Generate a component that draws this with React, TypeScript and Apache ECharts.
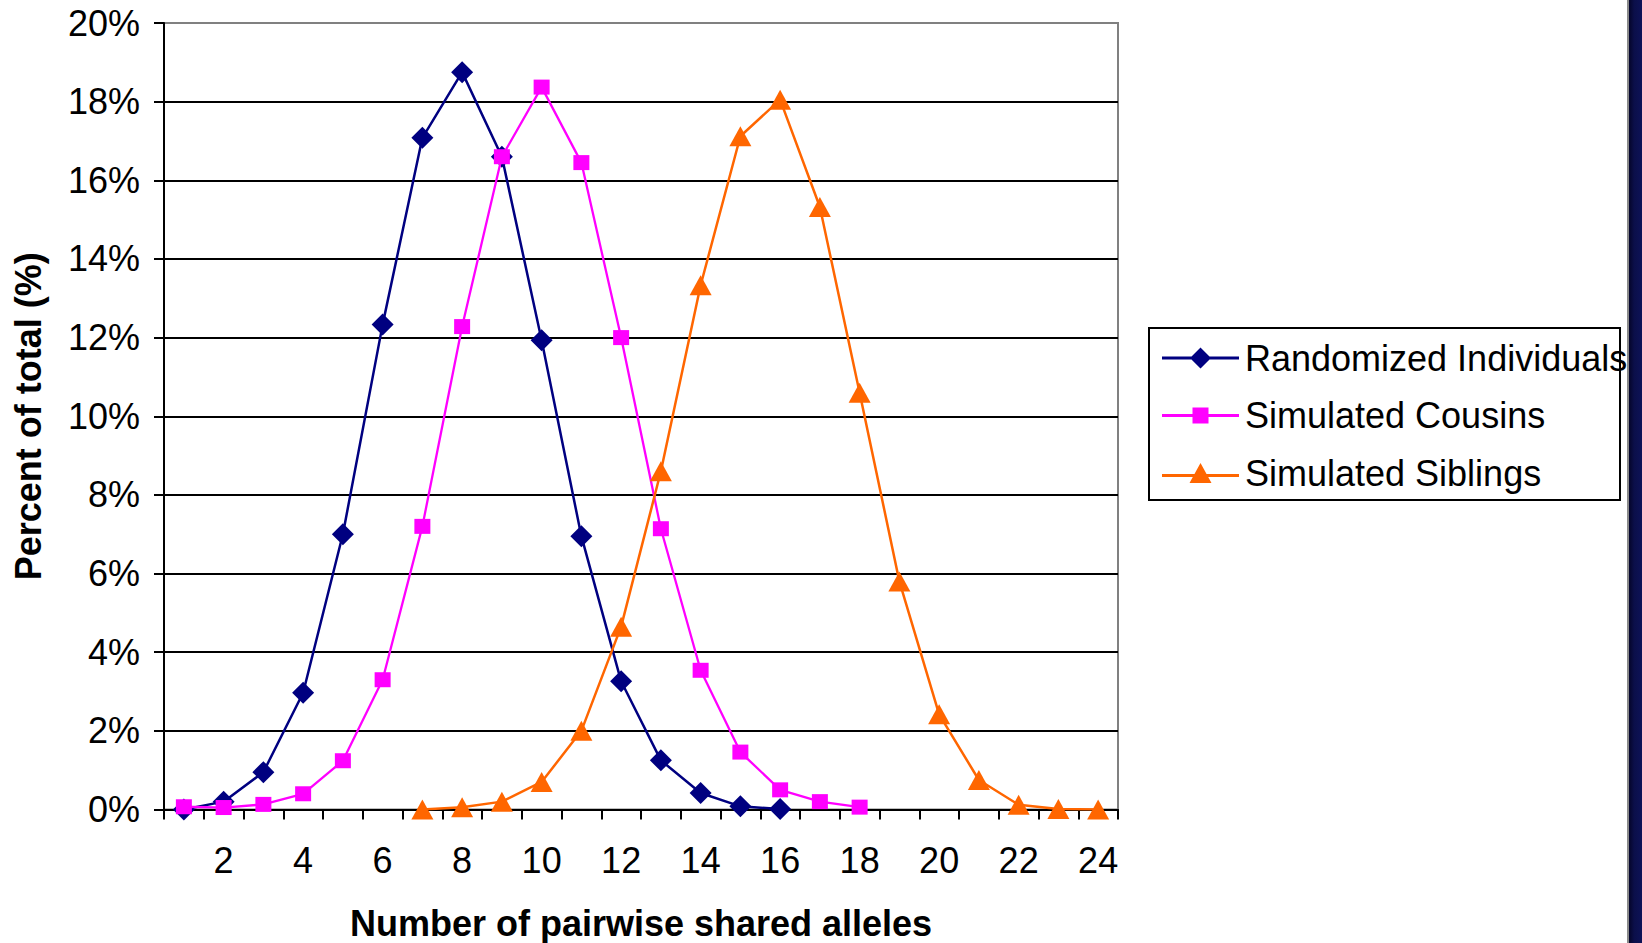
import React, { useEffect, useRef } from "react";
import * as echarts from "echarts";

const categories = ["1", "2", "3", "4", "5", "6", "7", "8", "9", "10", "11", "12", "13", "14", "15", "16", "17", "18", "19", "20", "21", "22", "23", "24"];
const yTicks = ["0%", "2%", "4%", "6%", "8%", "10%", "12%", "14%", "16%", "18%", "20%"];

const randomized = [0.0, 0.2, 0.95, 2.97, 7.0, 12.33, 17.08, 18.75, 16.6, 11.93, 6.95, 3.26, 1.25, 0.42, 0.08, 0.01, null, null, null, null, null, null, null, null];
const cousins = [0.07, 0.05, 0.13, 0.4, 1.24, 3.3, 7.2, 12.28, 16.6, 18.37, 16.45, 12.0, 7.14, 3.54, 1.46, 0.5, 0.2, 0.06, null, null, null, null, null, null];
const siblings = [null, null, null, null, null, null, 0.0, 0.06, 0.2, 0.7, 2.0, 4.65, 8.6, 13.33, 17.12, 18.05, 15.32, 10.6, 5.8, 2.42, 0.75, 0.12, 0.01, 0.0];

const seriesNames = ["Randomized Individuals", "Simulated Cousins", "Simulated Siblings"];

const FONT = "'Liberation Sans', Arial, sans-serif";

// legend icons: line + marker, drawn as one filled path
const iconDiamond = "path://M0 9L77 9L77 12L0 12Z M38.5 0L49 10.5L38.5 21L28 10.5Z";
const iconSquare = "path://M0 6.5L77 6.5L77 9.5L0 9.5Z M30.5 0L46.5 0L46.5 16L30.5 16Z";
const iconTriangle = "path://M0 11L77 11L77 14L0 14Z M38.5 0L49.5 20L27.5 20Z";

export default function App() {
  const ref = useRef<HTMLDivElement>(null);
  useEffect(() => {
    if (!ref.current) return;
    const chart = echarts.init(ref.current, null, { renderer: "svg" });
    const L = 164, T = 23, R = 1118, B = 809.5;
    chart.setOption({
      animation: false,
      backgroundColor: "#ffffff",
      grid: {
        left: L,
        top: T,
        width: R - L,
        height: B - T,
        containLabel: false,
        outerBoundsMode: "none",
        show: true,
        borderColor: "#808080",
        borderWidth: 2,
        backgroundColor: "transparent",
      },
      xAxis: {
        type: "category",
        data: categories,
        boundaryGap: true,
        name: "Number of pairwise shared alleles",
        nameLocation: "middle",
        nameGap: 96,
        nameTextStyle: { fontFamily: FONT, fontWeight: "bold", fontSize: 36, lineHeight: 36, color: "#000" },
        axisLine: { show: true, lineStyle: { color: "#000", width: 2 } },
        axisTick: { show: true, interval: 0, length: 10, inside: false, lineStyle: { color: "#000", width: 2 } },
        axisLabel: {
          interval: (idx: number) => idx % 2 === 1,
          fontFamily: FONT,
          fontSize: 36,
          color: "#000",
          margin: 33,
        },
        splitLine: { show: false },
      },
      yAxis: {
        type: "value",
        min: 0,
        max: 20,
        interval: 2,
        name: "Percent of total (%)",
        nameLocation: "middle",
        nameGap: 118,
        nameRotate: 90,
        nameTextStyle: { fontFamily: FONT, fontWeight: "bold", fontSize: 36, color: "#000" },
        axisLine: { show: true, lineStyle: { color: "#000", width: 2 } },
        axisTick: { show: true, length: 10, lineStyle: { color: "#000", width: 2 } },
        axisLabel: {
          fontFamily: FONT,
          fontSize: 36,
          color: "#000",
          margin: 24,
          formatter: (v: number) => yTicks[Math.round(v / 2)] ?? v + "%",
        },
        splitLine: { show: true, showMaxLine: false, lineStyle: { color: "#000", width: 2 } },
      },
      legend: {
        show: true,
        orient: "vertical",
        left: 1162,
        top: 338,
        itemWidth: 77,
        itemHeight: 22,
        itemGap: 17.5,
        padding: 0,
        itemStyle: { borderWidth: 0 },
        data: [
          { name: seriesNames[0], icon: iconDiamond },
          { name: seriesNames[1], icon: iconSquare },
          { name: seriesNames[2], icon: iconTriangle },
        ],
        textStyle: { fontFamily: FONT, fontSize: 36, color: "#000", lineHeight: 40, padding: [0, 0, 0, 1] },
      },
      graphic: [
        {
          type: "rect",
          z: -1,
          shape: { x: 1149, y: 328, width: 471, height: 172 },
          style: { fill: "#fff", stroke: "#000", lineWidth: 2 },
        },
        {
          type: "rect",
          shape: { x: 1627, y: 0, width: 2, height: 943 },
          style: { fill: "#8a8a8a" },
        },
        {
          type: "rect",
          shape: { x: 1629, y: 0, width: 13, height: 943 },
          style: {
            fill: new echarts.graphic.LinearGradient(0, 0, 1, 0, [
              { offset: 0, color: "#05052a" },
              { offset: 0.4, color: "#0b0f4a" },
              { offset: 1, color: "#0d1257" },
            ]),
          },
        },
      ],
      series: [
        {
          name: seriesNames[0],
          type: "line",
          data: randomized,
          connectNulls: false,
          symbol: "diamond",
          symbolSize: [22, 22],
          lineStyle: { color: "#000080", width: 2.5 },
          itemStyle: { color: "#000080" },
          z: 3,
        },
        {
          name: seriesNames[1],
          type: "line",
          data: cousins,
          symbol: "rect",
          symbolSize: [16, 15],
          lineStyle: { color: "#FF00FF", width: 2.3 },
          itemStyle: { color: "#FF00FF" },
          z: 4,
        },
        {
          name: seriesNames[2],
          type: "line",
          data: siblings,
          symbol: "triangle",
          symbolSize: [22, 20],
          lineStyle: { color: "#FF6600", width: 2.5 },
          itemStyle: { color: "#FF6600" },
          z: 5,
        },
      ],
    });
    return () => chart.dispose();
  }, []);
  return (
    <div
      ref={ref}
      style={{ position: "fixed", left: 0, top: 0, width: 1642, height: 943, background: "#fff" }}
    />
  );
}
